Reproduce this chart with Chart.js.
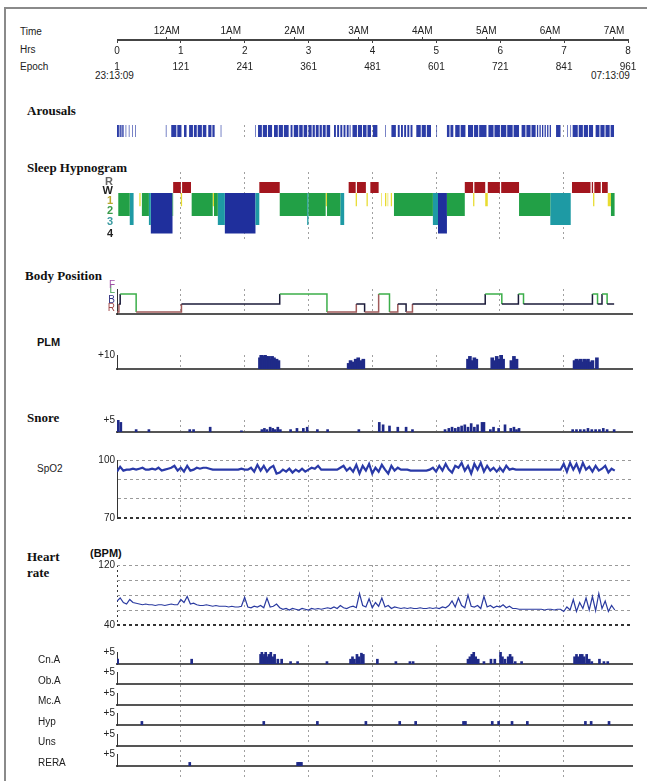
<!DOCTYPE html>
<html>
<head>
<meta charset="utf-8">
<script src="https://cdn.jsdelivr.net/npm/chart.js@4"></script>
<style>
body { margin: 0; background: #fff; }
#page { position: relative; width: 647px; height: 781px; overflow: hidden; font-family: "Liberation Sans", Arial, sans-serif; }
#frame { position: absolute; left: 4px; top: 7px; width: 700px; height: 800px; border-left: 2px solid #8a8a8a; border-top: 2px solid #8a8a8a; }
canvas { position: absolute; left: 0; }
.lbl { position: absolute; font-size: 10px; line-height: 12px; color: #222; white-space: nowrap; }
.ttl { position: absolute; font-family: "Liberation Serif", "Times New Roman", serif; font-weight: bold; font-size: 13px; line-height: 14px; color: #111; white-space: nowrap; }
.bld { position: absolute; font-weight: bold; font-size: 11px; line-height: 12px; color: #111; white-space: nowrap; }
</style>
</head>
<body>
<div id="page">
  <div id="frame"></div>
  <div class="lbl" style="left:20px;top:26px">Time</div>
  <div class="lbl" style="left:20px;top:44px">Hrs</div>
  <div class="lbl" style="left:20px;top:61px">Epoch</div>
  <div class="lbl" style="left:95px;top:70px">23:13:09</div>
  <div class="lbl" style="left:591px;top:70px">07:13:09</div>
  <div class="ttl" style="left:27px;top:104px">Arousals</div>
  <div class="ttl" style="left:27px;top:161px">Sleep Hypnogram</div>
  <div class="ttl" style="left:25px;top:269px">Body Position</div>
  <div class="bld" style="left:37px;top:336px">PLM</div>
  <div class="ttl" style="left:27px;top:411px">Snore</div>
  <div class="lbl" style="left:37px;top:463px">SpO2</div>
  <div class="ttl" style="left:27px;top:550px">Heart</div>
  <div class="ttl" style="left:27px;top:566px">rate</div>
  <div class="bld" style="left:90px;top:547px">(BPM)</div>
</div>
<script>
// header axis
const hrsLabels = ['0', '1', '2', '3', '4', '5', '6', '7', '8'];
const epochLabels = ['1', '121', '241', '361', '481', '601', '721', '841', '961'];
const timeLabels = ['12AM', '1AM', '2AM', '3AM', '4AM', '5AM', '6AM', '7AM'];
const timeTickHours = [0.78, 1.78, 2.78, 3.78, 4.78, 5.78, 6.78, 7.78];

// arousal intervals [start, end] in hours
const arousals = [
  [0.00, 0.03], [0.04, 0.06], [0.07, 0.09], [0.10, 0.11],
  [0.135, 0.145], [0.185, 0.195], [0.235, 0.245], [0.285, 0.295], [0.765, 0.775],
  [0.85, 0.93], [0.945, 1.01], [1.05, 1.09], [1.13, 1.19], [1.205, 1.25], [1.265, 1.33], [1.345, 1.40],
  [1.43, 1.48], [1.495, 1.53], [1.625, 1.635], [2.165, 2.175],
  [2.21, 2.27], [2.285, 2.35], [2.365, 2.43], [2.46, 2.52], [2.535, 2.60], [2.615, 2.69], [2.72, 2.75],
  [2.77, 2.84], [2.855, 2.91], [2.925, 2.98], [3.00, 3.05], [3.065, 3.10], [3.115, 3.16], [3.175, 3.21],
  [3.225, 3.27], [3.285, 3.34], [3.40, 3.43], [3.45, 3.48], [3.50, 3.53], [3.55, 3.58], [3.60, 3.63],
  [3.645, 3.66], [3.69, 3.76], [3.775, 3.84], [3.855, 3.91], [3.925, 3.98], [4.01, 4.08], [4.205, 4.215],
  [4.30, 4.37], [4.40, 4.43], [4.45, 4.48], [4.50, 4.53], [4.55, 4.58], [4.60, 4.63],
  [4.69, 4.76], [4.775, 4.84], [4.855, 4.92], [5.005, 5.015], [5.17, 5.21], [5.225, 5.27],
  [5.30, 5.37], [5.385, 5.46], [5.50, 5.58], [5.595, 5.66], [5.675, 5.79], [5.82, 5.90], [5.915, 6.00],
  [6.015, 6.10], [6.115, 6.20], [6.215, 6.30], [6.34, 6.40], [6.415, 6.48], [6.495, 6.56],
  [6.58, 6.60], [6.62, 6.64], [6.66, 6.68], [6.70, 6.72], [6.74, 6.76], [6.78, 6.80], [6.88, 6.95],
  [7.055, 7.065], [7.105, 7.115], [7.14, 7.22], [7.235, 7.30], [7.315, 7.38], [7.395, 7.46],
  [7.50, 7.56], [7.575, 7.64], [7.655, 7.72], [7.735, 7.79]
];

// hypnogram: stage from each start hour until the next one
const hypStart = [0.00, 0.02, 0.20, 0.26, 0.35, 0.37, 0.39, 0.50, 0.53, 0.87, 0.88, 1.00, 1.02, 1.16, 1.17,
  1.50, 1.52, 1.58, 1.69, 2.17, 2.23, 2.55, 2.98, 3.00, 3.27, 3.29, 3.50, 3.56, 3.63, 3.74, 3.76, 3.90,
  3.91, 3.93, 3.97, 4.10, 4.14, 4.15, 4.20, 4.22, 4.24, 4.25, 4.29, 4.31, 4.34, 4.95, 5.03, 5.17, 5.45,
  5.58, 5.60, 5.77, 5.81, 6.00, 6.02, 6.30, 6.79, 7.11, 7.13, 7.42, 7.44, 7.46, 7.48, 7.58, 7.60, 7.69, 7.74];
const hypStage = ['W', '2', '3', 'W', '1', 'W', '2', '3', '4', '2', 'R', '1', 'R', 'W', '2',
  '1', '2', '3', '4', '3', 'R', '2', '3', '2', '1', '2', '3', 'W', 'R', '1', 'R', 'W',
  '1', 'W', 'R', 'W', '1', 'W', '1', 'W', '1', 'W', '1', 'W', '2', '3', '4', '2', 'R',
  '1', 'R', '1', 'R', 'W', 'R', '2', '3', 'W', 'R', 'W', 'R', '1', 'R', 'W', 'R', '1', '2'];
const hypEnd = 7.80;
const stageNames = ['R', 'W', '1', '2', '3', '4'];
const stageTickValues = [1.0, 0.15, -0.75, -1.6, -2.6, -3.72];

// body position: position from each start hour until the next one
const bodyStart = [0.00, 0.03, 0.05, 0.30, 1.01, 2.55, 3.29, 3.75, 3.88, 4.10, 4.27, 4.40, 4.53, 4.63,
  5.77, 6.03, 6.29, 6.37, 7.45, 7.53, 7.60, 7.68];
const bodyPos = ['R', 'B', 'L', 'R', 'B', 'L', 'R', 'B', 'R', 'L', 'R', 'B', 'R', 'B',
  'L', 'B', 'L', 'B', 'L', 'B', 'L', 'B'];
const bodyEnd = 7.79;

// PLM events [hour, count]
const plmEvents = [
  [2.24, 8], [2.26, 10], [2.28, 9], [2.30, 8], [2.32, 10], [2.34, 9], [2.36, 8], [2.38, 9], [2.40, 7],
  [2.43, 9], [2.46, 8], [2.50, 7], [2.53, 6], [3.63, 4], [3.66, 6], [3.70, 5], [3.74, 7], [3.78, 8],
  [3.82, 6], [3.86, 7], [5.50, 7], [5.53, 9], [5.57, 6], [5.60, 8], [5.63, 7], [5.88, 8], [5.91, 6],
  [5.95, 9], [5.99, 7], [6.02, 10], [6.05, 7], [6.18, 6], [6.22, 9], [6.26, 7], [7.17, 6], [7.20, 7],
  [7.23, 6], [7.26, 7], [7.29, 5], [7.32, 7], [7.35, 6], [7.38, 7], [7.41, 5], [7.45, 6], [7.52, 8]
];

// snore events [hour, count]
const snoreEvents = [
  [0.02, 5], [0.06, 4], [0.30, 1], [0.50, 1], [1.14, 1], [1.20, 1], [1.46, 2], [1.95, 0.5],
  [2.27, 1], [2.31, 1.5], [2.35, 1], [2.40, 2], [2.44, 1.5], [2.48, 1], [2.52, 2], [2.56, 1],
  [2.72, 1], [2.82, 1.5], [2.92, 1.5], [2.98, 2], [3.14, 1], [3.30, 1], [3.79, 1],
  [4.11, 4], [4.17, 3], [4.27, 2.5], [4.40, 2], [4.53, 2], [4.63, 1],
  [5.14, 1], [5.20, 1.5], [5.25, 2], [5.30, 1.5], [5.35, 2], [5.40, 2.5], [5.45, 3], [5.50, 2],
  [5.55, 3.5], [5.60, 2], [5.65, 3], [5.72, 4], [5.75, 4], [5.85, 1], [5.90, 2], [5.98, 1.5],
  [6.08, 3], [6.17, 1.5], [6.22, 2], [6.26, 1], [6.30, 1.5],
  [7.14, 1], [7.20, 1], [7.26, 1], [7.32, 1], [7.38, 1.5], [7.44, 1], [7.50, 1], [7.56, 1],
  [7.62, 1.5], [7.68, 1], [7.79, 1]
];

// SpO2 (%) and heart rate (BPM), one sample every 0.05 h from 0
const sampleStep = 0.05;
const spo2Values = [
  94, 96.5, 94.5,
  95, 95, 95.5, 95, 95.5, 96, 95,
  95, 95.5, 95, 96, 94.5, 95, 95.5, 96, 97, 94.5,
  96, 94, 97, 94.5, 95, 96,
  95.5, 96, 96, 95.5,
  95, 95, 95, 95, 95, 95, 95, 95, 95, 95.5, 95, 95,
  96, 94, 97.5, 94.5, 97, 94, 96, 97,
  93, 93.5, 95, 94, 95.5, 93.5, 95, 94, 95.5, 94,
  95, 96, 95.5, 97,
  95, 95, 95, 95, 95, 95,
  96, 97, 94.5, 96,
  94, 97.5, 93, 97, 94.5, 98, 93, 96, 94, 97.5, 95, 93, 97, 94.5, 96, 95,
  95, 95, 94.5, 94.5, 94.5, 94.5, 94.5, 94.5, 95, 96,
  94, 97, 94.5, 98, 95, 93.5, 97, 96, 98.5, 94.5, 97, 93, 98, 95, 98.5, 94, 97, 94.5, 96, 94,
  96, 94, 97, 95, 95.5,
  95, 95, 95, 95, 95, 95, 95, 95, 95, 95, 95, 95, 95, 95, 95,
  98, 94, 98.5, 95, 98, 94, 98.5, 95,
  96.5, 94, 97, 94.5, 95.5, 97, 93.5, 95.5, 94.5
];
const hrValues = [
  72, 76, 70,
  68, 74, 70, 69, 68, 67, 68,
  67, 67, 66, 67, 67, 66, 67, 68, 67, 67,
  74, 70, 78, 68, 69, 67,
  66, 66, 67, 66, 65, 66, 65, 65, 65, 64, 65, 64, 64, 65, 77, 64,
  63, 65, 64, 66, 63, 76, 64, 65,
  68, 63, 61, 62, 60, 62, 61, 60, 62, 61,
  60, 62, 61, 62, 61, 62, 63, 62, 64, 62, 66, 63, 62, 64,
  65, 63, 82, 66, 64, 75, 63, 70, 65, 76, 64, 66, 62, 64, 63, 62,
  63, 62, 63, 62, 62, 63, 62, 62, 63, 62,
  63, 62, 64, 63, 66, 72, 64, 76, 66, 63, 80, 65, 64, 66, 62, 78, 64, 66, 63, 65,
  64, 67, 63, 65, 62,
  62, 61, 61, 61, 61, 61, 61, 61, 61, 60, 61, 61, 60, 61, 61,
  58, 64, 60, 74, 58, 70, 62, 76,
  60, 78, 59, 82, 62, 72, 58, 66, 60
];

// respiratory event rows [hour, count]
const eventRows = ['Cn.A', 'Ob.A', 'Mc.A', 'Hyp', 'Uns', 'RERA'];
const cnaEvents = [
  [0.01, 2], [1.17, 2], [2.25, 4], [2.27, 5], [2.29, 3], [2.31, 4], [2.33, 5], [2.35, 3], [2.38, 4],
  [2.41, 5], [2.44, 3], [2.47, 4], [2.52, 2], [2.58, 2], [2.72, 1], [2.83, 1], [3.29, 1],
  [3.66, 2], [3.69, 3], [3.72, 2], [3.76, 4], [3.79, 3], [3.83, 4.5], [3.86, 4], [4.08, 2],
  [4.37, 1], [4.59, 1], [4.64, 1], [5.50, 2], [5.53, 3], [5.56, 4], [5.59, 5], [5.62, 3],
  [5.66, 2], [5.75, 1], [5.86, 2], [5.92, 2], [6.01, 5], [6.04, 3], [6.08, 2], [6.13, 3],
  [6.16, 4], [6.19, 3], [6.24, 1], [6.34, 1], [7.17, 3], [7.20, 4], [7.23, 3], [7.26, 4],
  [7.29, 4], [7.32, 3], [7.36, 4], [7.40, 2], [7.44, 1], [7.56, 2], [7.63, 1], [7.69, 1]
];
const obaEvents = [];
const mcaEvents = [];
const hypEvents = [
  [0.39, 1.5], [2.30, 1.5], [3.14, 1.5], [3.90, 1.5], [4.43, 1.5], [4.68, 1.5], [5.43, 1.5],
  [5.46, 1.5], [5.88, 1.5], [5.98, 1.5], [6.19, 1.5], [6.43, 1.5], [7.34, 1.5], [7.43, 1.5], [7.71, 1.5]
];
const unsEvents = [];
const reraEvents = [[1.14, 1.5], [2.83, 1.5], [2.85, 1.5], [2.87, 1.5], [2.89, 1.5]];

// ---- drawing ----
const FONT = '"Liberation Sans", Arial, sans-serif';
const HOURS = [0, 1, 2, 3, 4, 5, 6, 7, 8];
const X_MAX = 8.07;
const PAD = 12;
const NAVY = '#1f2a88';
const page = document.getElementById('page');

const stageLevel = { W: 0, R: 1, '1': -1.2, '2': -2.09, '3': -2.91, '4': -3.68 };
const stageColor = { R: '#a3161e', '1': '#e8dc30', '2': '#22a046', '3': '#1e9aa4', '4': '#1f2f9c' };
const stageTickColor = ['#666', '#222', '#b8a830', '#3a9a4a', '#3a9aa0', '#222'];
const bodyLevel = { R: 0, B: 1, L: 2.25 };
const bodyColor = { R: '#a05a5a', B: '#1b1b3a', L: '#3cae4a' };

function mkCanvas(top, height) {
  const c = document.createElement('canvas');
  c.width = 647;
  c.height = height;
  c.style.top = top + 'px';
  page.appendChild(c);
  return c;
}

function xAxis(o = {}) {
  return {
    type: 'linear', min: 0, max: X_MAX, offset: false,
    afterBuildTicks: s => { s.ticks = HOURS.map(v => ({ value: v })); },
    afterFit: s => { s.height = 0; },
    ticks: { display: false },
    grid: {
      display: o.grid !== false, offset: false, drawTicks: false, lineWidth: 1,
      color: c => (c.tick && c.tick.value > 0 && c.tick.value < 8) ? '#a0a0a0' : (c.tick && c.tick.value === 0 && o.zeroColor) || 'rgba(0,0,0,0)'
    },
    border: { display: o.base !== false, color: '#555', width: 2, dash: [2, 3] }
  };
}

function yAxis(o) {
  const y = {
    type: 'linear', min: o.min, max: o.max,
    afterFit: s => { s.width = 117; },
    ticks: {
      display: !!o.labels, padding: o.pad === undefined ? 3 : o.pad, autoSkip: false,
      font: o.font || { size: 10, family: FONT }, color: o.tickColor || '#222', labelOffset: o.labelOffset || 0
    },
    grid: { display: !!o.grid, drawTicks: false, color: o.grid || '#999', lineWidth: o.gridWidth || 1 },
    border: { display: !!o.axis, color: '#333', width: 1, dash: o.dash || [] }
  };
  if (o.ticks) y.afterBuildTicks = s => { s.ticks = o.ticks.map(v => ({ value: v })); };
  if (o.labels) y.ticks.callback = o.labels;
  if (o.step) y.ticks.stepSize = o.step;
  return y;
}

function panel(areaTop, areaBottom, type, datasets, xo, yo) {
  const c = mkCanvas(areaTop - PAD, areaBottom - areaTop + 2 * PAD);
  return new Chart(c, {
    type: type,
    data: { datasets: datasets },
    options: {
      responsive: false, animation: false, devicePixelRatio: 1,
      layout: { padding: { left: 0, right: 15, top: PAD, bottom: PAD } },
      plugins: { legend: { display: false }, tooltip: { enabled: false } },
      elements: { point: { radius: 0 } },
      scales: { x: xAxis(xo), y: yAxis(yo) }
    }
  });
}

function eventBars(events, thickness) {
  return [{
    data: events.map(e => ({ x: e[0], y: e[1] })),
    backgroundColor: NAVY, borderWidth: 0, barThickness: thickness, grouped: false
  }];
}

// header: time / hrs / epoch axis
new Chart(mkCanvas(18, 70), {
  type: 'line',
  data: { datasets: [] },
  options: {
    responsive: false, animation: false, devicePixelRatio: 1,
    layout: { padding: { left: 117, right: 19, top: 0, bottom: 0 } },
    plugins: { legend: { display: false }, tooltip: { enabled: false } },
    scales: {
      xt: {
        type: 'linear', position: 'top', min: 0, max: 8,
        afterBuildTicks: s => { s.ticks = timeTickHours.map(v => ({ value: v })); },
        afterFit: s => { s.height = 21; },
        ticks: { callback: (v, i) => timeLabels[i], font: { size: 10, family: FONT }, color: '#222', padding: 0, maxRotation: 0, autoSkip: false },
        grid: { drawOnChartArea: false, drawTicks: true, tickLength: 2, color: '#444' },
        border: { display: true, color: '#444', width: 1 }
      },
      x: {
        type: 'linear', position: 'bottom', min: 0, max: 8,
        afterBuildTicks: s => { s.ticks = HOURS.map(v => ({ value: v })); },
        afterFit: s => { s.height = 48; },
        ticks: { callback: (v, i) => [hrsLabels[i], epochLabels[i]], font: { size: 10, family: FONT, lineHeight: 1.6 }, color: '#222', padding: 0, maxRotation: 0, autoSkip: false },
        grid: { drawOnChartArea: false, drawTicks: true, tickLength: 3, color: '#444' },
        border: { display: true, color: '#444', width: 1 }
      },
      y: { display: false }
    }
  }
});

// arousals
const arousalPts = [];
arousals.forEach(a => { arousalPts.push({ x: a[0], y: 1 }, { x: a[1], y: 0 }); });
panel(125, 137.5, 'line', [{
  data: arousalPts, stepped: true, fill: 'origin', backgroundColor: '#2b3ca6',
  borderColor: 'rgba(0,0,0,0)', borderWidth: 0
}], { base: false }, { min: 0, max: 1 });

// hypnogram
const hypDatasets = ['R', '2', '3', '4', '1'].map(s => ({
  data: hypStart.map((t, i) => ({ x: t, y: hypStage[i] === s ? stageLevel[s] : 0 })).concat([{ x: hypEnd, y: 0 }]),
  stepped: true, fill: 'origin', backgroundColor: stageColor[s],
  borderColor: 'rgba(0,0,0,0)', borderWidth: 0
}));
panel(172, 242, 'line', hypDatasets, { base: false }, {
  min: -4.45, max: 1.91, ticks: stageTickValues, labels: (v, i) => stageNames[i], pad: 4,
  font: { size: 11, family: FONT, weight: 'bold' }, tickColor: c => stageTickColor[c.index]
});

// body position
const bodyPts = bodyStart.map((t, i) => ({ x: t, y: bodyLevel[bodyPos[i]] }));
bodyPts.push({ x: bodyEnd, y: bodyLevel[bodyPos[bodyPos.length - 1]] });
const bodyNames = ['R', 'B', 'L', 'F'];
const bodyTickColor = ['#a04848', '#303080', '#3ca04a', '#a050a8'];
panel(289, 314.5, 'line', [{
  data: bodyPts, stepped: true, fill: false, borderWidth: 1.5,
  segment: { borderColor: c => bodyColor[bodyPos[c.p0DataIndex]] || '#1b1b3a' }
}], {}, {
  min: -0.25, max: 2.875, ticks: [0, 1, 2.25, 2.875], labels: (v, i) => bodyNames[i], axis: true, pad: 2,
  labelOffset: -4, font: { size: 10, family: FONT }, tickColor: c => bodyTickColor[c.index]
});

// PLM
panel(355, 369, 'bar', eventBars(plmEvents, 3), {}, { min: 0, max: 10, ticks: [10], labels: () => '+10', axis: true, pad: 2 });

// snore
panel(420, 432, 'bar', eventBars(snoreEvents, 2), {}, { min: 0, max: 5, ticks: [5], labels: () => '+5', axis: true, pad: 2 });

// SpO2
panel(460, 518, 'line', [{
  data: spo2Values.map((v, i) => ({ x: i * sampleStep, y: v })),
  borderColor: '#2a3aa8', borderWidth: 2.2, fill: false, tension: 0
}], { base: false }, {
  min: 70, max: 100, step: 10, labels: v => (v === 100 || v === 70) ? String(v) : '', axis: true, pad: 2,
  grid: c => c.tick.value === 70 ? '#333' : '#9a9a9a', gridWidth: c => c.tick.value === 70 ? 2 : 1, dash: [3, 3]
});

// heart rate
panel(565, 625, 'line', [{
  data: hrValues.map((v, i) => ({ x: i * sampleStep, y: v })),
  borderColor: '#2a3aa0', borderWidth: 1.2, fill: false, tension: 0
}], { base: false, zeroColor: '#333' }, {
  min: 40, max: 120, step: 20, labels: v => (v === 120 || v === 40) ? String(v) : '', pad: 2,
  grid: c => c.tick.value === 40 ? '#333' : '#9a9a9a', gridWidth: c => c.tick.value === 40 ? 2 : 1, dash: [3, 3]
});

// background hour grid for the event rows
panel(645, 777, 'line', [], { base: false }, { min: 0, max: 1 });

// event rows
const eventData = [cnaEvents, obaEvents, mcaEvents, hypEvents, unsEvents, reraEvents];
const eventBase = [664, 684.5, 705, 725.5, 746, 766.5];
eventRows.forEach((name, k) => {
  const d = document.createElement('div');
  d.className = 'lbl';
  d.style.left = '38px';
  d.style.top = (eventBase[k] - 10) + 'px';
  d.textContent = name;
  page.appendChild(d);
  panel(eventBase[k] - 12.5, eventBase[k], 'bar', eventBars(eventData[k], 2),
    { grid: false }, { min: 0, max: 5, ticks: [5], labels: () => '+5', axis: true, pad: 2 });
});
</script>
</body>
</html>
